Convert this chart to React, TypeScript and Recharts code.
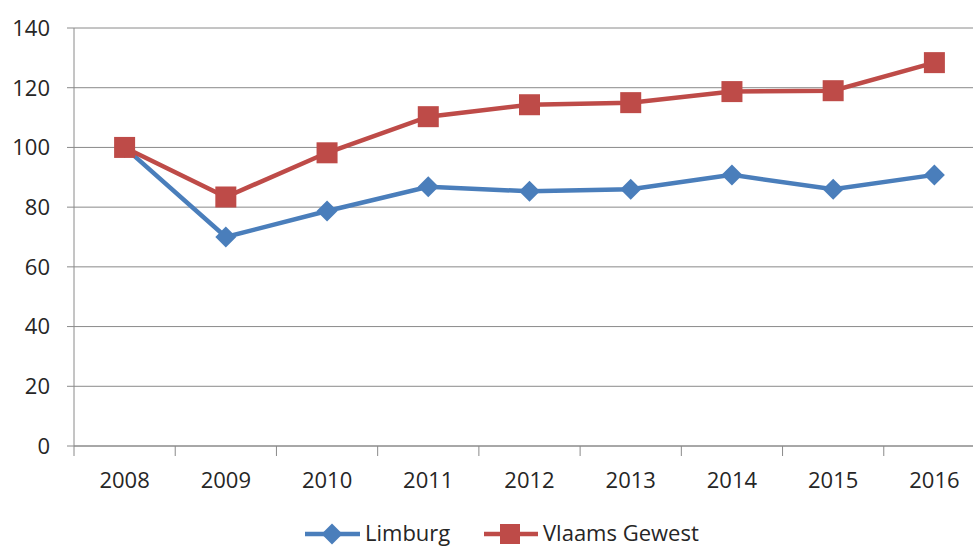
import { LineChart, Line, XAxis, YAxis, CartesianGrid } from "recharts"

const years = ["2008", "2009", "2010", "2011", "2012", "2013", "2014", "2015", "2016"]
const limburg = [100, 70, 78.7, 86.8, 85.3, 86, 90.8, 86, 90.8]
const vlaamsGewest = [100, 83.4, 98.2, 110.3, 114.3, 115, 118.7, 119, 128.4]
const yTicks = [0, 20, 40, 60, 80, 100, 120, 140]

const BLUE = "#4a7ebb"
const RED = "#be4b48"
const GRID = "#8a8a8a"
const TEXT = "#262626"
const FONT = "'Open Sans', sans-serif"

// plot geometry: chart is wider than the window, right edge gets cropped like the original
const CHART_W = 990
const CHART_H = 548
const Y_AXIS_W = 74
const MARGIN_RIGHT = 5
const PLOT_W = CHART_W - Y_AXIS_W - MARGIN_RIGHT
const BAND = PLOT_W / years.length

const data = years.map((year, i) => ({
  year,
  limburg: limburg[i],
  vlaams: vlaamsGewest[i],
}))

function XTick({ x, y, payload }: any) {
  const edge = x - BAND / 2
  return (
    <g>
      <line x1={edge} y1={y - 10} x2={edge} y2={y} stroke={GRID} strokeWidth={1} />
      <text x={x} y={y + 32} textAnchor="middle" fill={TEXT} fontSize={22} fontFamily={FONT}>
        {payload.value}
      </text>
    </g>
  )
}

function Diamond({ cx, cy, size = 10.5, color = BLUE }: any) {
  if (cx == null || cy == null) return null
  return (
    <path
      d={`M${cx},${cy - size} L${cx + size},${cy} L${cx},${cy + size} L${cx - size},${cy} Z`}
      fill={color}
    />
  )
}

function Square({ cx, cy, size = 10.5, color = RED }: any) {
  if (cx == null || cy == null) return null
  return <rect x={cx - size} y={cy - size} width={size * 2} height={size * 2} fill={color} />
}

function LegendOverlay() {
  return (
    <svg
      width={973}
      height={35}
      style={{ position: "absolute", left: 0, top: 513, overflow: "visible" }}
    >
      <line x1={305} y1={21} x2={360} y2={21} stroke={BLUE} strokeWidth={4.5} />
      <Diamond cx={332} cy={21} size={10.5} />
      <text x={365} y={28} fill={TEXT} fontSize={22} fontFamily={FONT}>
        Limburg
      </text>
      <line x1={484} y1={21} x2={538} y2={21} stroke={RED} strokeWidth={4.5} />
      <Square cx={510} cy={21} size={10} />
      <text x={543} y={28} fill={TEXT} fontSize={22} fontFamily={FONT}>
        Vlaams Gewest
      </text>
    </svg>
  )
}

export default function App() {
  return (
    <div
      style={{
        position: "fixed",
        left: 0,
        top: 0,
        width: 973,
        height: 548,
        overflow: "hidden",
        background: "#fff",
      }}
    >
      <LineChart
        width={CHART_W}
        height={CHART_H}
        data={data}
        margin={{ top: 28, right: MARGIN_RIGHT, left: 0, bottom: 0 }}
      >
        <CartesianGrid vertical={false} stroke={GRID} strokeWidth={1} />
        <XAxis
          dataKey="year"
          scale="band"
          height={102}
          axisLine={{ stroke: GRID, strokeWidth: 1 }}
          tickLine={false}
          tickSize={10}
          tickMargin={0}
          interval={0}
          tick={<XTick />}
        />
        <YAxis
          width={Y_AXIS_W}
          domain={[0, 140]}
          ticks={yTicks}
          interval={0}
          axisLine={{ stroke: GRID, strokeWidth: 1 }}
          tickLine={{ stroke: GRID, strokeWidth: 1 }}
          tickSize={7}
          tickMargin={17}
          tick={{ fill: TEXT, fontSize: 22, fontFamily: FONT }}
        />
        <Line
          dataKey="limburg"
          name="Limburg"
          stroke={BLUE}
          strokeWidth={4.5}
          dot={<Diamond />}
          activeDot={false}
          isAnimationActive={false}
        />
        <Line
          dataKey="vlaams"
          name="Vlaams Gewest"
          stroke={RED}
          strokeWidth={4.5}
          dot={<Square />}
          activeDot={false}
          isAnimationActive={false}
        />
      </LineChart>
      <LegendOverlay />
    </div>
  )
}
